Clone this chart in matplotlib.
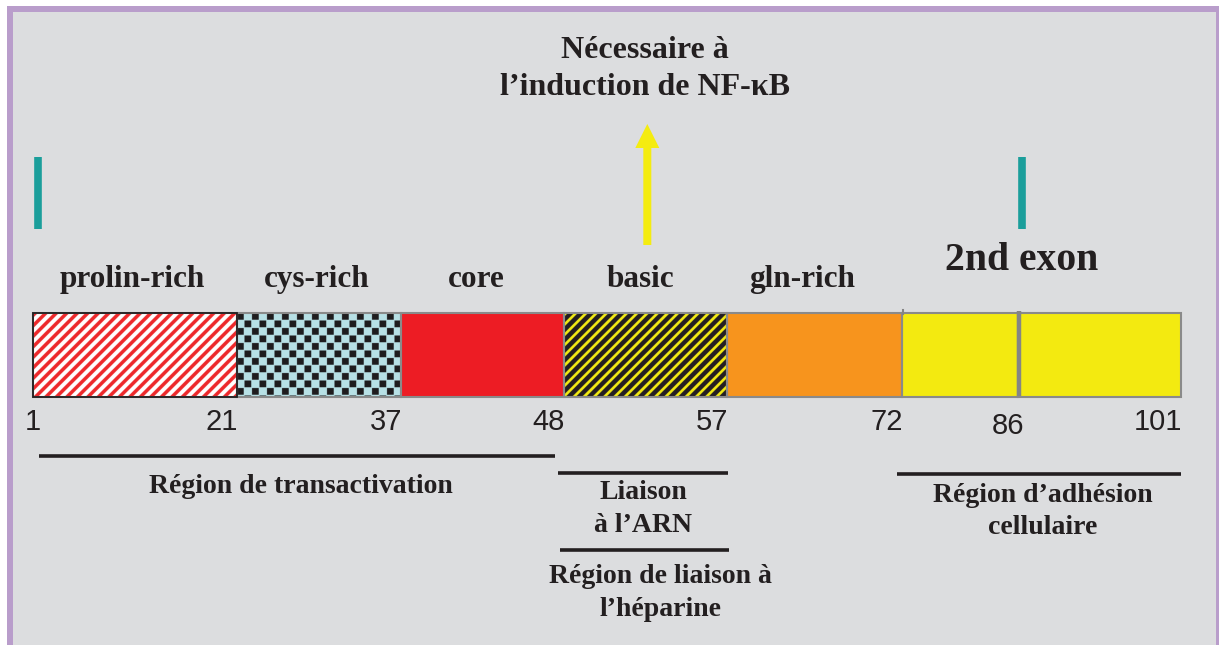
import numpy as np
import matplotlib.pyplot as plt
from matplotlib.patches import Rectangle, FancyArrow

# Tat protein domains (residue numbers)
boundary_res = [1, 21, 37, 48, 57, 72, 86, 101]
domain_names = ['prolin-rich', 'cys-rich', 'core', 'basic', 'gln-rich']
domain_label_res = [10.7, 28.8, 42.1, 52.2, 63.4]
exon2_label = '2nd exon'
exon_marks_res = [1.5, 86.4]
arrow_res = 52.6
regions = ['Région de transactivation', 'Liaison\nà l\u2019ARN',
           'Région de liaison à\nl\u2019héparine', 'Région d\u2019adhésion\ncellulaire']
region_start = [1.6, 47.6, 47.7, 71.6]
region_end = [47.4, 57.1, 57.2, 101.1]
title = 'Nécessaire à\nl\u2019induction de NF-\u03baB'

# schematic layout: pixel position of each boundary (bar is not to scale)
boundary_px = [33, 237, 401, 564, 727, 902, 1018, 1181]


def res_to_px(r):
    return np.interp(r, boundary_res, boundary_px)


W, H = 1219, 645
fig = plt.figure(figsize=(W / 100, H / 100), dpi=100)
ax = fig.add_axes([0, 0, 1, 1])
ax.set_xlim(0, W)
ax.set_ylim(H, 0)
ax.axis('off')

# frame
ax.add_patch(Rectangle((7, 6), W, H, facecolor='#b99dcb', edgecolor='none'))
ax.add_patch(Rectangle((13, 12), 1216 - 13, H, facecolor='#dcdddf', edgecolor='none'))

bar_top, bar_bot = 313, 397


def texture(x0, x1, kind):
    s = 4
    w = int(round(x1 - x0))
    h = bar_bot - bar_top
    xs = (np.arange(w * s) + 0.5) / s
    ys = (np.arange(h * s) + 0.5) / s
    X, Y = np.meshgrid(xs, ys)
    img = np.zeros((h * s, w * s, 3))
    if kind == 'red_stripes':
        m = ((X + Y) % 10.5) < 5.0
        img[:] = (1, 1, 1)
        img[m] = (0.93, 0.16, 0.17)
    elif kind == 'yellow_stripes':
        m = ((X + Y) % 10.2) < 3.8
        img[:] = (0.14, 0.12, 0.13)
        img[m] = (0.95, 0.92, 0.08)
    elif kind == 'checker':
        c = 7.5
        i = np.floor(X / c)
        j = np.floor(Y / c)
        m = (((i + j) % 2) == 0) & ((X % c) < 6.8) & ((Y % c) < 6.8)
        img[:] = (0.72, 0.88, 0.9)
        img[m] = (0.12, 0.11, 0.12)
    ax.imshow(img, extent=(x0, x1, bar_bot, bar_top), origin='upper',
              interpolation='antialiased', aspect='auto', zorder=2)


styles = ['red_stripes', 'checker', '#ed1c24', 'yellow_stripes', '#f7941d', '#f3ea10', '#f3ea10']
for k in range(len(boundary_res) - 1):
    x0 = res_to_px(boundary_res[k])
    x1 = res_to_px(boundary_res[k + 1])
    st = styles[k]
    if st.startswith('#'):
        ax.add_patch(Rectangle((x0, bar_top), x1 - x0, bar_bot - bar_top,
                               facecolor=st, edgecolor='none', zorder=2))
    else:
        texture(x0, x1, st)
    ax.add_patch(Rectangle((x0, bar_top), x1 - x0, bar_bot - bar_top, fill=False,
                           edgecolor='#8a8a8a', lw=1.5, zorder=3))

# first segment outlined in black
x0, x1 = res_to_px(boundary_res[0]), res_to_px(boundary_res[1])
ax.add_patch(Rectangle((x0, bar_top), x1 - x0, bar_bot - bar_top, fill=False,
                       edgecolor='#231f20', lw=1.3, zorder=4))
# thicker divider inside the 2nd exon
xd = res_to_px(86)
ax.plot([xd + 1, xd + 1], [bar_top - 2, bar_bot - 1], color='#858585', lw=3.2,
        solid_capstyle='butt', zorder=4)
x72 = res_to_px(72)
ax.plot([x72 + 1, x72 + 1], [bar_top - 3, bar_top + 1], color='#858585', lw=1.5, zorder=4)

# residue numbers under the bar
num_font = dict(family='Liberation Sans', fontsize=21, color='#231f20')
for k, r in enumerate(boundary_res):
    x = res_to_px(r)
    if k == 0:
        ax.text(x, 430, str(r), ha='center', va='baseline', **num_font)
    elif r == 86:
        ax.text(x + 6, 434, str(r), ha='right', va='baseline', **num_font)
    else:
        ax.text(x + 1, 430, str(r), ha='right', va='baseline', **num_font)

serif = dict(family='Liberation Serif', fontweight='bold', color='#231f20')

# domain names
for name, r in zip(domain_names, domain_label_res):
    ax.text(res_to_px(r), 287, name, ha='center', va='baseline', fontsize=22.5, **serif)
ax.text(res_to_px(86.3), 270, exon2_label, ha='center', va='baseline', fontsize=28.5, **serif)

# teal exon marks
for r in exon_marks_res:
    x = res_to_px(r)
    ax.plot([x, x], [157, 229], color='#1b9e9b', lw=5.5, solid_capstyle='butt')

# NF-kB arrow
xa = res_to_px(arrow_res)
ax.add_patch(FancyArrow(xa, 245, 0, -121, width=8, head_width=24, head_length=24,
                        length_includes_head=True, color='#f4ec10', lw=0))
ax.text(645, 58, title.split('\n')[0], ha='center', va='baseline', fontsize=23, **serif)
ax.text(645, 95, title.split('\n')[1], ha='center', va='baseline', fontsize=23, **serif)

# functional regions: line + label below
line_y = [456, 473, 550, 474]
text_base = [[493], [499, 532], [583, 616], [502, 534]]
text_dx = [4, 0, 16, 4]
for k, reg in enumerate(regions):
    xs = res_to_px(region_start[k])
    xe = res_to_px(region_end[k])
    ax.plot([xs, xe], [line_y[k], line_y[k]], color='#231f20', lw=2.6, solid_capstyle='butt')
    for line, yb in zip(reg.split('\n'), text_base[k]):
        ax.text((xs + xe) / 2 + text_dx[k], yb, line, ha='center', va='baseline',
                fontsize=20, **serif)

fig.savefig('out.png', dpi=100)
